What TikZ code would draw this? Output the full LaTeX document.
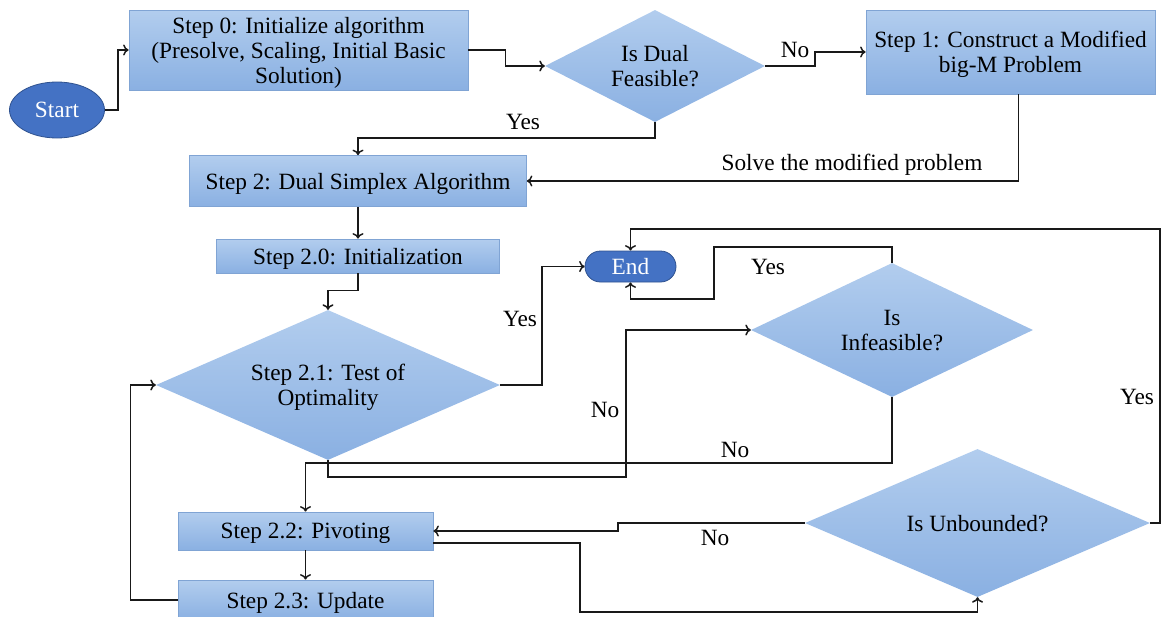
\documentclass[tikz,border=0pt]{standalone}
\usepackage{fontspec}
\setmainfont{Liberation Serif}
\usetikzlibrary{shapes.geometric,arrows.meta}
\definecolor{boxtop}{RGB}{178,205,238}
\definecolor{boxbot}{RGB}{138,176,226}
\definecolor{boxline}{RGB}{128,164,212}
\definecolor{termfill}{RGB}{68,114,196}
\definecolor{termline}{RGB}{47,82,143}
\definecolor{linecol}{RGB}{25,25,25}
\begin{document}
\begin{tikzpicture}[x=1pt,y=-1pt,font=\fontsize{23.3}{25}\selectfont,
  box/.style={rectangle,draw=boxline,line width=0.8pt,top color=boxtop,bottom color=boxbot,align=center,inner sep=0pt,text depth=0pt},
  dia/.style={diamond,draw=none,top color=boxtop,bottom color=boxbot,align=center,inner sep=0pt,text depth=0pt},
  term/.style={draw=termline,fill=termfill,text=white,line width=0.8pt,inner sep=0pt},
  arr/.style={draw=linecol,line width=1.5pt,-{To[length=5.5pt,width=11pt]}},
  lab/.style={text=black,inner sep=0pt}]
\useasboundingbox (0,0) rectangle (1161,616);
% nodes
\node[term,ellipse,minimum width=95,minimum height=56] (start) at (57,110) {Start};
\node[box,minimum width=339,minimum height=80] (s0) at (298.5,50) {Step 0: Initialize algorithm\\(Presolve, Scaling, Initial Basic\\Solution)};
\node[dia,shape aspect=1.96,minimum width=220,minimum height=112] (dual) at (655,66) {Is Dual\\Feasible?};
\node[box,minimum width=289,minimum height=84] (s1) at (1010.5,52) {Step 1: Construct a Modified\\big-M Problem};
\node[box,minimum width=337,minimum height=51] (s2) at (358,181) {Step 2: Dual Simplex Algorithm};
\node[box,minimum width=283,minimum height=34] (s20) at (358,256) {Step 2.0: Initialization};
\node[dia,shape aspect=2.29,minimum width=344,minimum height=150] (s21) at (328,385) {Step 2.1: Test of\\Optimality};
\node[term,rectangle,rounded corners=15.5pt,minimum width=91,minimum height=31] (end) at (630.5,266.5) {End};
\node[dia,shape aspect=2.1,minimum width=282,minimum height=134] (inf) at (892,330) {Is\\Infeasible?};
\node[dia,shape aspect=2.33,minimum width=345,minimum height=148] (unb) at (977.5,523) {Is Unbounded?};
\node[box,minimum width=255,minimum height=38] (s22) at (305.5,531) {Step 2.2: Pivoting};
\node[box,minimum width=255,minimum height=40] (s23) at (305.5,600) {Step 2.3: Update};
% connectors
\draw[arr] (start.east) -- ++(13,0) |- (s0.west);
\draw[arr] (s0.east) -- ++(37,0) |- (dual.west);
\draw[arr] (dual.east) -- ++(50,0) |- (s1.west);
\draw[arr] ([xshift=8pt]s1.south) |- (s2.east);
\draw[arr] (dual.south) -- ++(0,16) -| (s2.north);
\draw[arr] (s2.south) -- (s20.north);
\draw[arr] (s20.south) -- ++(0,17) -| (s21.north);
\draw[arr] (s21.east) -- ++(42,0) |- (end.west);
\draw[arr] (inf.north) -- ++(0,-16) -- ++(-178,0) -- ++(0,52) -| (end.south);
\draw[arr] (unb.east) -| (1160,229) -| (end.north);
\draw[arr] (s21.south) -- ++(0,17) -- ++(298,0) |- (inf.west);
\draw[arr] (inf.south) -- ++(0,66) -| (s22.north);
\draw[arr] (s22.south) -- (s23.north);
\draw[arr] (s23.west) -- ++(-47,0) |- (s21.west);
\draw[arr] (unb.west) -- ++(-187,0) |- (s22.east);
\draw[arr] ([yshift=-12pt]s22.east) -| (580,612) -| (unb.south);
% labels
\node[lab] (l1) at (795,50) {No};
\node[lab] (l2) at (523,122) {Yes};
\node[lab] (l3) at (852,165) {Solve the modified problem};
\node[lab] (l4) at (520,319) {Yes};
\node[lab] (l5) at (768,267) {Yes};
\node[lab] (l6) at (1137,397) {Yes};
\node[lab] (l7) at (605,410) {No};
\node[lab] (l8) at (735,450) {No};
\node[lab] (l9) at (715,538) {No};
\end{tikzpicture}
\end{document}
